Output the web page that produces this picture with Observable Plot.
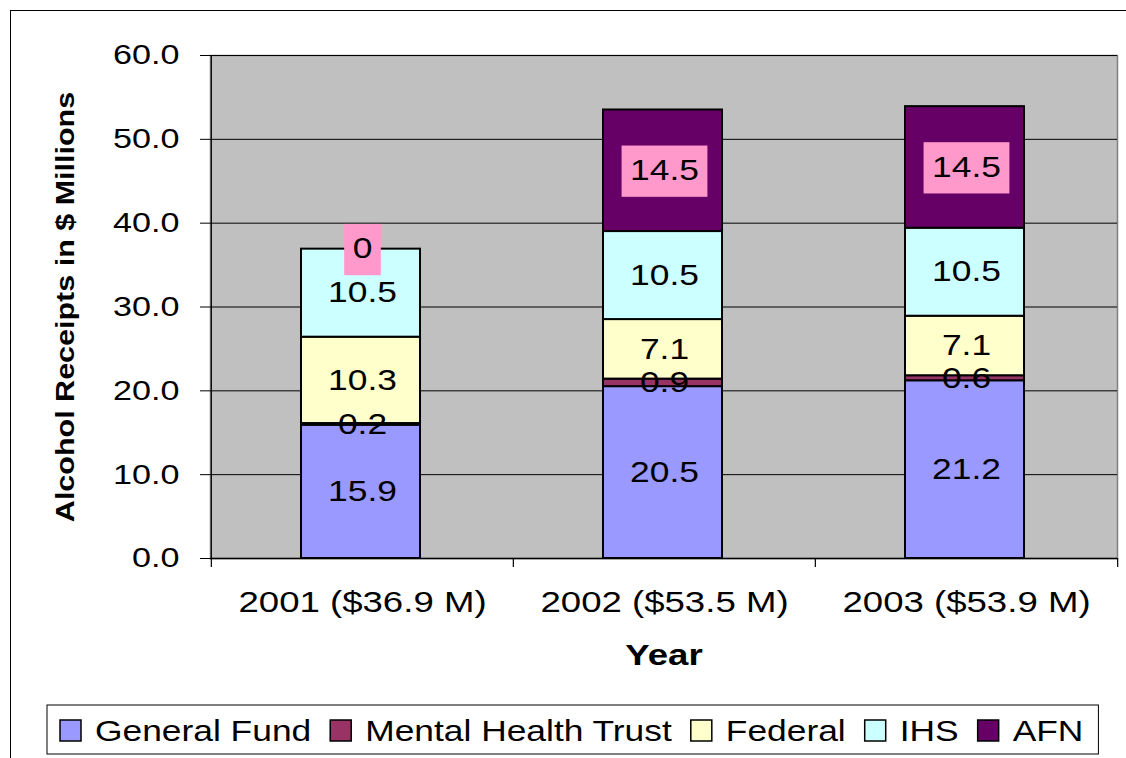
<!DOCTYPE html>
<html><head><meta charset="utf-8">
<script src="https://cdn.jsdelivr.net/npm/d3@7"></script>
<script src="https://cdn.jsdelivr.net/npm/@observablehq/plot@0.6"></script>
<style>
html,body{margin:0;padding:0;background:#fff;overflow:hidden;width:1126px;height:758px;}
#frame{position:absolute;left:10px;top:10px;width:1300px;height:900px;border:1px solid #000;}
#chart{position:absolute;left:0;top:0;}
#legend{position:absolute;left:0;top:700px;}
</style></head><body>
<div id="frame"></div>
<div id="chart"></div>
<div id="legend"></div>
<script>
const years = ["2001 ($36.9 M)", "2002 ($53.5 M)", "2003 ($53.9 M)"];
const series = ["General Fund", "Mental Health Trust", "Federal", "IHS", "AFN"];
const colors = ["#9999FF", "#993366", "#FFFFCC", "#CCFFFF", "#660066"];
const generalFund = [15.9, 20.5, 21.2];
const mentalHealthTrust = [0.2, 0.9, 0.6];
const federal = [10.3, 7.1, 7.1];
const ihs = [10.5, 10.5, 10.5];
const afn = [0, 14.5, 14.5];
const yTicks = [0, 10, 20, 30, 40, 50, 60];
const yTitle = "Alcohol Receipts in $ Millions";
const xTitle = "Year";

const FONT = "'Liberation Sans', Arial, Helvetica, sans-serif";
const S = 1.22; // horizontal glyph stretch
const W = 1126, H = 690, mL = 210, mR = 9, mT = 55, mB = 132;
const plotH = H - mT - mB;
const bw = (W - mL - mR) / years.length;

const valuesBySeries = [generalFund, mentalHealthTrust, federal, ihs, afn];
const rows = [];
years.forEach((year, i) => {
  let base = 0;
  series.forEach((s, j) => {
    const v = valuesBySeries[j][i];
    rows.push({year, series: s, value: v, y1: base, y2: base + v, mid: base + v / 2, label: String(v)});
    base += v;
  });
});

const plot = Plot.plot({
  width: W, height: H, marginLeft: mL, marginRight: mR, marginTop: mT, marginBottom: mB,
  style: {background: "transparent", fontFamily: FONT, color: "#000"},
  x: {type: "band", domain: years, padding: 0},
  y: {domain: [0, 60]},
  color: {domain: series, range: colors},
  marks: [
    Plot.frame({fill: "#c0c0c0", stroke: "#808080", strokeWidth: 1.5}),
    Plot.ruleY(yTicks.filter(d => d > 0), {stroke: "#000", strokeWidth: 1}),
    Plot.barY(rows, {x: "year", y1: "y1", y2: "y2", fill: "series", stroke: "#000", strokeWidth: 2, insetLeft: 90, insetRight: 93}),
    Plot.ruleY([0], {stroke: "#000", strokeWidth: 1.5}),
    Plot.ruleX(years.slice(0, 1), {x: d => d, dx: -bw / 2, stroke: "#000", strokeWidth: 1.2}),
    Plot.ruleX(years, {x: d => d, dx: -bw / 2, insetTop: plotH, insetBottom: -9, stroke: "#000", strokeWidth: 1.2}),
    Plot.ruleX(years.slice(-1), {x: d => d, dx: bw / 2, insetTop: plotH, insetBottom: -9, stroke: "#000", strokeWidth: 1.2}),
    Plot.axisY(yTicks, {tickFormat: d3.format(".1f"), tickSize: 10, tickPadding: 21, fontSize: 28, label: null, stroke: "#000"}),
    Plot.axisX({tickSize: 0, tickPadding: 32, fontSize: 30, label: null}),
    Plot.text(rows.filter(d => d.series !== "AFN"), {x: "year", y: "mid", text: "label", fontSize: 29, lineAnchor: "middle", fill: "#000"}),
    Plot.text(rows.filter(d => d.series === "AFN"), {x: "year", y: "mid", text: "label", fontSize: 29, lineAnchor: "middle", fill: "#000", ariaDescription: "afn-labels"}),
    Plot.text([yTitle], {frameAnchor: "left", dx: -145, rotate: -90, fontSize: 25, fontWeight: "bold", textAnchor: "middle", lineAnchor: "middle", fill: "#000"}),
    Plot.text([xTitle], {frameAnchor: "bottom", dy: 97, fontSize: 30, fontWeight: "bold", textAnchor: "middle", lineAnchor: "middle", fill: "#000"})
  ]
});
document.getElementById("chart").append(plot);

// horizontal stretch of glyphs (format-agnostic, via SVG DOM matrices)
plot.querySelectorAll("text").forEach(t => {
  const tl = t.transform.baseVal;
  const c = tl.numberOfItems ? tl.consolidate() : null;
  let m = c ? c.matrix : plot.createSVGMatrix();
  const xl = t.x.baseVal, yl = t.y.baseVal;
  const x = xl.numberOfItems ? xl.getItem(0).value : 0;
  const y = yl.numberOfItems ? yl.getItem(0).value : 0;
  m = m.translate(x, y).scaleNonUniform(S, 1);
  t.removeAttribute("x"); t.removeAttribute("y");
  t.setAttribute("transform", `matrix(${m.a},${m.b},${m.c},${m.d},${m.e},${m.f})`);
});

// pink label boxes behind AFN labels
const ns = "http://www.w3.org/2000/svg";
let afnG = plot.querySelector('g[aria-description="afn-labels"]');
if (!afnG) {
  const afnLabels = rows.filter(d => d.series === "AFN").map(d => d.label).join("|");
  afnG = [...plot.querySelectorAll("g")].find(g => {
    const ts = [...g.children].filter(c => c.tagName === "text");
    return ts.length && ts.map(t => t.textContent).join("|") === afnLabels;
  });
}
if (afnG) {
  const sr = plot.getBoundingClientRect();
  const boxG = document.createElementNS(ns, "g");
  afnG.querySelectorAll("text").forEach(t => {
    const r = t.getBoundingClientRect();
    const padX = 8.5, padY = 9.5;
    const rect = document.createElementNS(ns, "rect");
    rect.setAttribute("x", r.left - sr.left - padX);
    rect.setAttribute("y", r.top - sr.top - padY + 1);
    rect.setAttribute("width", r.width + 2 * padX);
    rect.setAttribute("height", r.height + 2 * padY);
    rect.setAttribute("fill", "#FF99CC");
    boxG.appendChild(rect);
  });
  afnG.parentNode.insertBefore(boxG, afnG);
}

// legend
const lg = d3.create("svg").attr("width", W).attr("height", 58)
  .style("font-family", FONT).style("display", "block");
document.getElementById("legend").append(lg.node());
const box = lg.append("rect").attr("y", 5).attr("height", 49)
  .attr("fill", "#fff").attr("stroke", "#000").attr("stroke-width", 1);
let lx = 60;
const startX = lx;
series.forEach((s, i) => {
  lg.append("rect").attr("x", lx).attr("y", 20).attr("width", 21).attr("height", 21)
    .attr("fill", colors[i]).attr("stroke", "#000").attr("stroke-width", 1.5);
  const t = lg.append("text")
    .attr("transform", `translate(${lx + 35},30.5) scale(${S},1)`)
    .attr("dy", "0.35em").attr("font-size", 29).attr("fill", "#000").text(s);
  const w = t.node().getComputedTextLength() * S;
  lx = lx + 35 + w + (i < series.length - 1 ? 19 : 0);
});
box.attr("x", startX - 13).attr("width", lx + 15 - (startX - 13));
</script>
</body></html>
